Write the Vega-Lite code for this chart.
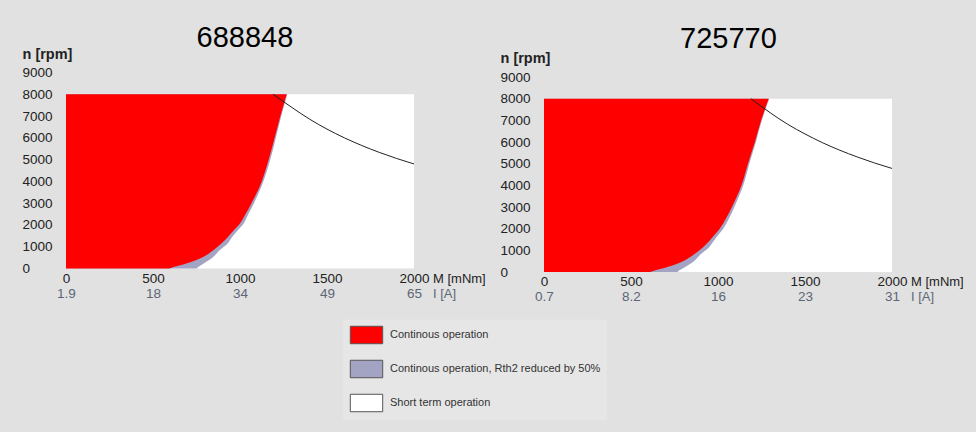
{
  "$schema": "https://vega.github.io/schema/vega-lite/v6.json",
  "background": "#e1e1e1",
  "padding": {"left": 22, "top": 23.5, "right": 12, "bottom": 11},
  "config": {
    "font": "Liberation Sans",
    "view": {"stroke": null},
    "axis": {"grid": false, "domain": false, "ticks": false, "tickSize": 0, "labelOverlap": false, "labelFlush": false, "labelFont": "Liberation Sans", "titleFont": "Liberation Sans"},
    "title": {"font": "Liberation Sans", "fontSize": 29, "fontWeight": "normal", "color": "#000000", "anchor": "middle", "frame": "group"},
    "legend": {
      "title": null, "orient": "none", "legendX": 277, "legendY": 247, "direction": "vertical",
      "symbolType": "M-1.8,-0.97H1.8V0.97H-1.8Z", "symbolSize": 324,
      "symbolStrokeColor": "#555555", "symbolStrokeWidth": 1,
      "labelFontSize": 11, "labelColor": "#333333", "labelFont": "Liberation Sans", "labelLimit": 400,
      "labelOffset": 14, "symbolOffset": 8, "rowPadding": 11, "padding": 6, "fillColor": "#e6e6e6"
    }
  },
  "resolve": {"scale": {"color": "shared"}, "legend": {"color": "shared"}},
  "spacing": 14,
  "hconcat": [
    {
      "width": 348, "height": 196,
      "title": {"text": "688848", "dx": 5, "offset": -6.5},
      "resolve": {"axis": {"x": "independent", "y": "independent"}},
      "layer": [
        {
          "data": {"values": [{"cat": "Short term operation", "M": 2000, "n": 8000}]},
          "mark": {"type": "rect"},
          "encoding": {
            "x": {"field": "M", "type": "quantitative", "scale": {"domain": [0, 2000], "nice": false},
              "axis": {"orient": "bottom", "values": [0, 500, 1000, 1500, 2000], "format": "d", "labelFontSize": 13.5, "labelColor": "#222222", "labelBaseline": "alphabetic", "labelPadding": 13.7,
                "title": "M [mNm]", "titleFontSize": 13, "titleFontWeight": "normal", "titleColor": "#222222", "titleAlign": "left", "titleBaseline": "alphabetic", "titleX": 366.5, "titleY": 13.7, "titleAnchor": null}},
            "x2": {"datum": 0},
            "y": {"field": "n", "type": "quantitative", "scale": {"domain": [0, 9000], "nice": false},
              "axis": {"orient": "left", "values": [0, 1000, 2000, 3000, 4000, 5000, 6000, 7000, 8000, 9000], "format": "d", "labelFontSize": 13.5, "labelColor": "#222222", "labelAlign": "left", "labelBaseline": "middle", "labelPadding": 44,
                "title": "n [rpm]", "titleAngle": 0, "titleFontSize": 14.5, "titleFontWeight": "bold", "titleColor": "#222222", "titleAlign": "left", "titleBaseline": "alphabetic", "titleX": -44, "titleY": -14.5, "titleAnchor": null}},
            "y2": {"datum": 0},
            "color": {"field": "cat", "type": "nominal",
              "scale": {"domain": ["Continous operation", "Continous operation, Rth2 reduced by 50%", "Short term operation"], "range": ["#ff0000", "#a3a3c4", "#ffffff"]},
              "legend": {"encode": {"symbols": {"update": {"stroke": {"value": "#555555"}, "strokeWidth": {"value": 1}}}}}}
          }
        },
        {
          "data": {"values": [
            {"cat": "Continous operation, Rth2 reduced by 50%", "n": 0, "M": 752},
            {"cat": "Continous operation, Rth2 reduced by 50%", "n": 50, "M": 756},
            {"cat": "Continous operation, Rth2 reduced by 50%", "n": 200, "M": 785},
            {"cat": "Continous operation, Rth2 reduced by 50%", "n": 507, "M": 843},
            {"cat": "Continous operation, Rth2 reduced by 50%", "n": 815, "M": 880},
            {"cat": "Continous operation, Rth2 reduced by 50%", "n": 1122, "M": 926},
            {"cat": "Continous operation, Rth2 reduced by 50%", "n": 1428, "M": 953},
            {"cat": "Continous operation, Rth2 reduced by 50%", "n": 1737, "M": 985},
            {"cat": "Continous operation, Rth2 reduced by 50%", "n": 2000, "M": 1015},
            {"cat": "Continous operation, Rth2 reduced by 50%", "n": 2500, "M": 1048},
            {"cat": "Continous operation, Rth2 reduced by 50%", "n": 3000, "M": 1080},
            {"cat": "Continous operation, Rth2 reduced by 50%", "n": 3500, "M": 1109},
            {"cat": "Continous operation, Rth2 reduced by 50%", "n": 4000, "M": 1134},
            {"cat": "Continous operation, Rth2 reduced by 50%", "n": 4500, "M": 1155},
            {"cat": "Continous operation, Rth2 reduced by 50%", "n": 5000, "M": 1174},
            {"cat": "Continous operation, Rth2 reduced by 50%", "n": 6000, "M": 1206},
            {"cat": "Continous operation, Rth2 reduced by 50%", "n": 7000, "M": 1237},
            {"cat": "Continous operation, Rth2 reduced by 50%", "n": 8000, "M": 1272}
          ]},
          "mark": {"type": "area", "orient": "horizontal", "interpolate": "monotone"},
          "encoding": {
            "x": {"field": "M", "type": "quantitative", "scale": {"domain": [0, 2000], "nice": false}, "axis": null},
            "x2": {"datum": 0},
            "y": {"field": "n", "type": "quantitative", "scale": {"domain": [0, 9000], "nice": false}, "axis": null},
            "color": {"field": "cat", "type": "nominal", "scale": {"domain": ["Continous operation", "Continous operation, Rth2 reduced by 50%", "Short term operation"], "range": ["#ff0000", "#a3a3c4", "#ffffff"]}}
          }
        },
        {
          "data": {"values": [
            {"cat": "Continous operation", "n": 0, "M": 595},
            {"cat": "Continous operation", "n": 50, "M": 610},
            {"cat": "Continous operation", "n": 125, "M": 645},
            {"cat": "Continous operation", "n": 275, "M": 710},
            {"cat": "Continous operation", "n": 507, "M": 782},
            {"cat": "Continous operation", "n": 815, "M": 843},
            {"cat": "Continous operation", "n": 1122, "M": 890},
            {"cat": "Continous operation", "n": 1428, "M": 928},
            {"cat": "Continous operation", "n": 1737, "M": 962},
            {"cat": "Continous operation", "n": 2000, "M": 993},
            {"cat": "Continous operation", "n": 2500, "M": 1032},
            {"cat": "Continous operation", "n": 3000, "M": 1066},
            {"cat": "Continous operation", "n": 3500, "M": 1098},
            {"cat": "Continous operation", "n": 4000, "M": 1125},
            {"cat": "Continous operation", "n": 4500, "M": 1146},
            {"cat": "Continous operation", "n": 5000, "M": 1165},
            {"cat": "Continous operation", "n": 6000, "M": 1199},
            {"cat": "Continous operation", "n": 7000, "M": 1232},
            {"cat": "Continous operation", "n": 8000, "M": 1268}
          ]},
          "mark": {"type": "area", "orient": "horizontal", "interpolate": "monotone"},
          "encoding": {
            "x": {"field": "M", "type": "quantitative", "scale": {"domain": [0, 2000], "nice": false}, "axis": null},
            "x2": {"datum": 0},
            "y": {"field": "n", "type": "quantitative", "scale": {"domain": [0, 9000], "nice": false}, "axis": null},
            "color": {"field": "cat", "type": "nominal", "scale": {"domain": ["Continous operation", "Continous operation, Rth2 reduced by 50%", "Short term operation"], "range": ["#ff0000", "#a3a3c4", "#ffffff"]}}
          }
        },
        {
          "data": {"values": [
            {"M": 1190, "n": 8000}, {"M": 1300, "n": 7385}, {"M": 1400, "n": 6857}, {"M": 1500, "n": 6400},
            {"M": 1600, "n": 6000}, {"M": 1700, "n": 5647}, {"M": 1800, "n": 5333}, {"M": 1900, "n": 5053}, {"M": 2000, "n": 4800}
          ]},
          "mark": {"type": "line", "color": "#222222", "strokeWidth": 1, "interpolate": "monotone"},
          "encoding": {
            "x": {"field": "M", "type": "quantitative", "scale": {"domain": [0, 2000], "nice": false},
              "axis": {"orient": "bottom", "values": [0, 500, 1000, 1500, 2000], "labelExpr": "datum.value == 0 ? '1.9' : datum.value == 500 ? '18' : datum.value == 1000 ? '34' : datum.value == 1500 ? '49' : '65'",
                "labelFontSize": 13.5, "labelColor": "#5d6676", "labelBaseline": "alphabetic", "labelPadding": 28.7,
                "title": "I [A]", "titleFontSize": 13, "titleFontWeight": "normal", "titleColor": "#5d6676", "titleAlign": "left", "titleBaseline": "alphabetic", "titleX": 366.5, "titleY": 28.7, "titleAnchor": null}},
            "y": {"field": "n", "type": "quantitative", "scale": {"domain": [0, 9000], "nice": false}, "axis": null}
          }
        }
      ]
    },
    {
      "width": 348, "height": 199.5,
      "title": {"text": "725770", "dx": 10.5, "offset": -3},
      "resolve": {"axis": {"x": "independent", "y": "independent"}},
      "layer": [
        {
          "data": {"values": [{"cat": "Short term operation", "M": 2000, "n": 8000}]},
          "mark": {"type": "rect"},
          "encoding": {
            "x": {"field": "M", "type": "quantitative", "scale": {"domain": [0, 2000], "nice": false},
              "axis": {"orient": "bottom", "values": [0, 500, 1000, 1500, 2000], "format": "d", "labelFontSize": 13.5, "labelColor": "#222222", "labelBaseline": "alphabetic", "labelPadding": 13.7,
                "title": "M [mNm]", "titleFontSize": 13, "titleFontWeight": "normal", "titleColor": "#222222", "titleAlign": "left", "titleBaseline": "alphabetic", "titleX": 366.5, "titleY": 13.7, "titleAnchor": null}},
            "x2": {"datum": 0},
            "y": {"field": "n", "type": "quantitative", "scale": {"domain": [0, 9207.7], "nice": false},
              "axis": {"orient": "left", "values": [0, 1000, 2000, 3000, 4000, 5000, 6000, 7000, 8000, 9000], "format": "d", "labelFontSize": 13.5, "labelColor": "#222222", "labelAlign": "left", "labelBaseline": "middle", "labelPadding": 44,
                "title": "n [rpm]", "titleAngle": 0, "titleFontSize": 14.5, "titleFontWeight": "bold", "titleColor": "#222222", "titleAlign": "left", "titleBaseline": "alphabetic", "titleX": -44, "titleY": -10, "titleAnchor": null}},
            "y2": {"datum": 0},
            "color": {"field": "cat", "type": "nominal",
              "scale": {"domain": ["Continous operation", "Continous operation, Rth2 reduced by 50%", "Short term operation"], "range": ["#ff0000", "#a3a3c4", "#ffffff"]}}
          }
        },
        {
          "data": {"values": [
            {"cat": "Continous operation, Rth2 reduced by 50%", "n": 0, "M": 768},
            {"cat": "Continous operation, Rth2 reduced by 50%", "n": 50, "M": 772},
            {"cat": "Continous operation, Rth2 reduced by 50%", "n": 200, "M": 805},
            {"cat": "Continous operation, Rth2 reduced by 50%", "n": 507, "M": 863},
            {"cat": "Continous operation, Rth2 reduced by 50%", "n": 815, "M": 900},
            {"cat": "Continous operation, Rth2 reduced by 50%", "n": 1122, "M": 946},
            {"cat": "Continous operation, Rth2 reduced by 50%", "n": 1428, "M": 975},
            {"cat": "Continous operation, Rth2 reduced by 50%", "n": 1737, "M": 1005},
            {"cat": "Continous operation, Rth2 reduced by 50%", "n": 2000, "M": 1030},
            {"cat": "Continous operation, Rth2 reduced by 50%", "n": 2500, "M": 1065},
            {"cat": "Continous operation, Rth2 reduced by 50%", "n": 3000, "M": 1094},
            {"cat": "Continous operation, Rth2 reduced by 50%", "n": 4000, "M": 1145},
            {"cat": "Continous operation, Rth2 reduced by 50%", "n": 5000, "M": 1180},
            {"cat": "Continous operation, Rth2 reduced by 50%", "n": 6000, "M": 1218},
            {"cat": "Continous operation, Rth2 reduced by 50%", "n": 7000, "M": 1252},
            {"cat": "Continous operation, Rth2 reduced by 50%", "n": 8000, "M": 1294}
          ]},
          "mark": {"type": "area", "orient": "horizontal", "interpolate": "monotone"},
          "encoding": {
            "x": {"field": "M", "type": "quantitative", "scale": {"domain": [0, 2000], "nice": false}, "axis": null},
            "x2": {"datum": 0},
            "y": {"field": "n", "type": "quantitative", "scale": {"domain": [0, 9207.7], "nice": false}, "axis": null},
            "color": {"field": "cat", "type": "nominal", "scale": {"domain": ["Continous operation", "Continous operation, Rth2 reduced by 50%", "Short term operation"], "range": ["#ff0000", "#a3a3c4", "#ffffff"]}}
          }
        },
        {
          "data": {"values": [
            {"cat": "Continous operation", "n": 0, "M": 610},
            {"cat": "Continous operation", "n": 50, "M": 628},
            {"cat": "Continous operation", "n": 125, "M": 662},
            {"cat": "Continous operation", "n": 275, "M": 729},
            {"cat": "Continous operation", "n": 507, "M": 802},
            {"cat": "Continous operation", "n": 815, "M": 863},
            {"cat": "Continous operation", "n": 1122, "M": 911},
            {"cat": "Continous operation", "n": 1428, "M": 950},
            {"cat": "Continous operation", "n": 1737, "M": 983},
            {"cat": "Continous operation", "n": 2000, "M": 1010},
            {"cat": "Continous operation", "n": 2500, "M": 1048},
            {"cat": "Continous operation", "n": 3000, "M": 1080},
            {"cat": "Continous operation", "n": 4000, "M": 1135},
            {"cat": "Continous operation", "n": 5000, "M": 1172},
            {"cat": "Continous operation", "n": 6000, "M": 1212},
            {"cat": "Continous operation", "n": 7000, "M": 1248},
            {"cat": "Continous operation", "n": 8000, "M": 1291}
          ]},
          "mark": {"type": "area", "orient": "horizontal", "interpolate": "monotone"},
          "encoding": {
            "x": {"field": "M", "type": "quantitative", "scale": {"domain": [0, 2000], "nice": false}, "axis": null},
            "x2": {"datum": 0},
            "y": {"field": "n", "type": "quantitative", "scale": {"domain": [0, 9207.7], "nice": false}, "axis": null},
            "color": {"field": "cat", "type": "nominal", "scale": {"domain": ["Continous operation", "Continous operation, Rth2 reduced by 50%", "Short term operation"], "range": ["#ff0000", "#a3a3c4", "#ffffff"]}}
          }
        },
        {
          "data": {"values": [
            {"M": 1189, "n": 8000}, {"M": 1300, "n": 7350}, {"M": 1400, "n": 6820}, {"M": 1500, "n": 6370},
            {"M": 1600, "n": 5970}, {"M": 1700, "n": 5620}, {"M": 1800, "n": 5310}, {"M": 1900, "n": 5030}, {"M": 2000, "n": 4780}
          ]},
          "mark": {"type": "line", "color": "#222222", "strokeWidth": 1, "interpolate": "monotone"},
          "encoding": {
            "x": {"field": "M", "type": "quantitative", "scale": {"domain": [0, 2000], "nice": false},
              "axis": {"orient": "bottom", "values": [0, 500, 1000, 1500, 2000], "labelExpr": "datum.value == 0 ? '0.7' : datum.value == 500 ? '8.2' : datum.value == 1000 ? '16' : datum.value == 1500 ? '23' : '31'",
                "labelFontSize": 13.5, "labelColor": "#5d6676", "labelBaseline": "alphabetic", "labelPadding": 28.7,
                "title": "I [A]", "titleFontSize": 13, "titleFontWeight": "normal", "titleColor": "#5d6676", "titleAlign": "left", "titleBaseline": "alphabetic", "titleX": 366.5, "titleY": 28.7, "titleAnchor": null}},
            "y": {"field": "n", "type": "quantitative", "scale": {"domain": [0, 9207.7], "nice": false}, "axis": null}
          }
        }
      ]
    }
  ]
}
